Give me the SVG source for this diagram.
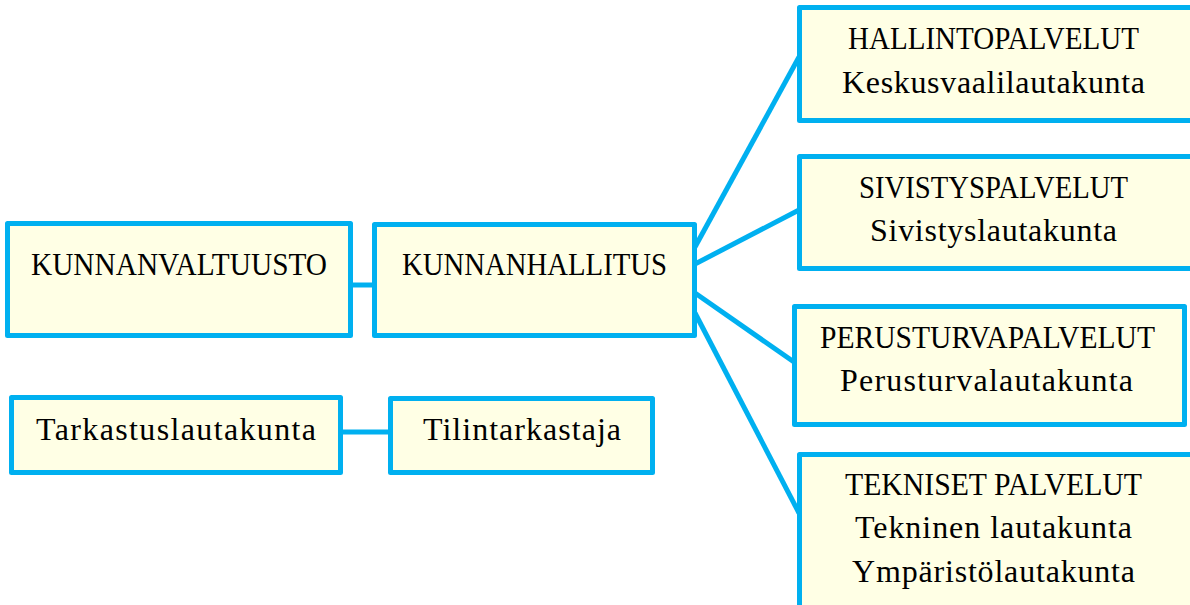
<svg xmlns="http://www.w3.org/2000/svg" width="1190" height="605" viewBox="0 0 1190 605">
<style>
.box{fill:#FFFFE5;stroke:#00B0F0;stroke-width:5;stroke-linejoin:round}
.con{stroke:#00B0F0;stroke-width:5;fill:none}
text{font-family:"Liberation Serif","DejaVu Serif",serif;font-size:31px;fill:#000;text-anchor:middle}
text.lc{font-size:32px}
</style>
<rect width="1190" height="605" fill="#FFFFFF"/>
<g id="connectors">
<line class="con" x1="351" y1="285" x2="375" y2="285"/>
<line class="con" x1="341" y1="432" x2="391" y2="432"/>
<line class="con" x1="695" y1="247" x2="799" y2="57"/>
<line class="con" x1="695" y1="264" x2="799" y2="210"/>
<line class="con" x1="695" y1="293" x2="794" y2="362"/>
<line class="con" x1="695" y1="313" x2="799" y2="513"/>
</g>
<g id="kunnanvaltuusto">
<rect class="box" x="7.5" y="223.5" width="343" height="112"/>
<text x="179" y="275" textLength="296" lengthAdjust="spacingAndGlyphs">KUNNANVALTUUSTO</text>
</g>
<g id="kunnanhallitus">
<rect class="box" x="374.5" y="224.5" width="320" height="111"/>
<text x="534.5" y="275" textLength="265" lengthAdjust="spacingAndGlyphs">KUNNANHALLITUS</text>
</g>
<g id="tarkastuslautakunta">
<rect class="box" x="11.5" y="397.5" width="329" height="75"/>
<text class="lc" x="176" y="440" textLength="280">Tarkastuslautakunta</text>
</g>
<g id="tilintarkastaja">
<rect class="box" x="390.5" y="398.5" width="262" height="74"/>
<text class="lc" x="522" y="440" textLength="198">Tilintarkastaja</text>
</g>
<g id="hallintopalvelut">
<rect class="box" x="799.5" y="7.5" width="400" height="113"/>
<text x="993.5" y="49" textLength="291" lengthAdjust="spacingAndGlyphs">HALLINTOPALVELUT</text>
<text class="lc" x="993.5" y="93" textLength="303">Keskusvaalilautakunta</text>
</g>
<g id="sivistyspalvelut">
<rect class="box" x="799.5" y="156.5" width="400" height="112"/>
<text x="993.5" y="198" textLength="269" lengthAdjust="spacingAndGlyphs">SIVISTYSPALVELUT</text>
<text class="lc" x="993.5" y="241" textLength="247">Sivistyslautakunta</text>
</g>
<g id="perusturvapalvelut">
<rect class="box" x="794.5" y="306.5" width="390" height="118"/>
<text x="987.5" y="348" textLength="335" lengthAdjust="spacingAndGlyphs">PERUSTURVAPALVELUT</text>
<text class="lc" x="986.5" y="391" textLength="293">Perusturvalautakunta</text>
</g>
<g id="tekniset-palvelut">
<rect class="box" x="799.5" y="454.5" width="400" height="170"/>
<text x="993.5" y="495" textLength="297" lengthAdjust="spacingAndGlyphs">TEKNISET PALVELUT</text>
<text class="lc" x="993.5" y="538" textLength="277">Tekninen lautakunta</text>
<text class="lc" x="993.5" y="582" textLength="283">Ympäristölautakunta</text>
</g>
</svg>
